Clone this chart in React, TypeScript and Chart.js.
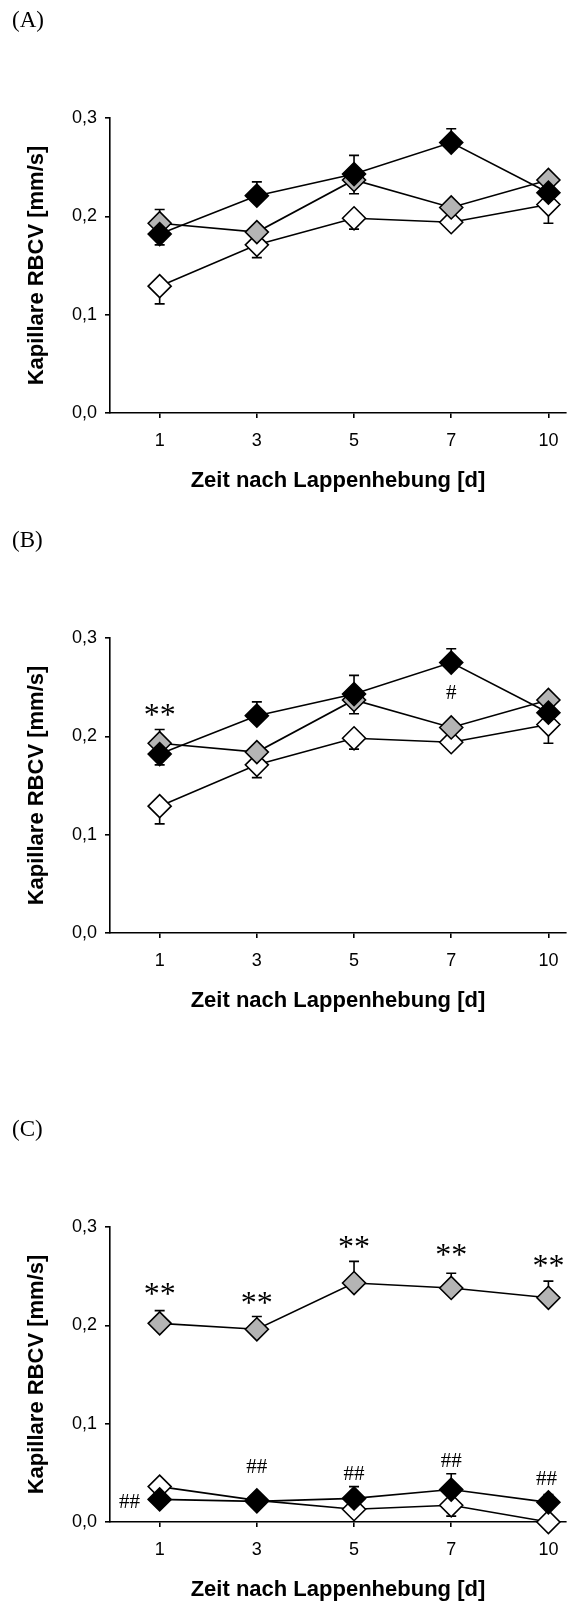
import React, { useEffect, useRef } from 'react';
import { Chart, registerables } from 'chart.js';

Chart.register(...registerables);

// ---- shared axis content ----
const DAY_LABELS = ['1', '3', '5', '7', '10'];
const Y_TICKS = [0, 0.1, 0.2, 0.3];
const Y_TICK_LABELS = ['0,0', '0,1', '0,2', '0,3'];
const X_TITLE = 'Zeit nach Lappenhebung [d]';
const Y_TITLE = 'Kapillare RBCV [mm/s]';

// ---- panels A and B (same measurements) ----
const AB_BLACK = [0.182, 0.221, 0.243, 0.275, 0.224];
const AB_BLACK_UP = [0, 0.014, 0.019, 0.014, 0.012];
const AB_BLACK_DOWN = [0.011, 0, 0, 0, 0];
const AB_GRAY = [0.193, 0.184, 0.237, 0.209, 0.237];
const AB_GRAY_UP = [0.014, 0, 0, 0, 0];
const AB_GRAY_DOWN = [0, 0, 0.014, 0.012, 0];
const AB_WHITE = [0.129, 0.171, 0.198, 0.194, 0.212];
const AB_WHITE_UP = [0, 0, 0, 0, 0];
const AB_WHITE_DOWN = [0.018, 0.013, 0.011, 0, 0.019];

// significance marks of panel B (x = day index, y = value)
const B_MARK_TEXT = ['**', '#'];
const B_MARK_X = [0, 3];
const B_MARK_Y = [0.226, 0.245];

// ---- panel C ----
const C_BLACK = [0.023, 0.021, 0.024, 0.033, 0.02];
const C_BLACK_UP = [0, 0, 0.012, 0.016, 0.008];
const C_BLACK_DOWN = [0, 0, 0, 0, 0];
const C_GRAY = [0.202, 0.196, 0.243, 0.238, 0.228];
const C_GRAY_UP = [0.013, 0.013, 0.022, 0.015, 0.017];
const C_GRAY_DOWN = [0, 0, 0, 0, 0];
const C_WHITE = [0.036, 0.022, 0.013, 0.017, 0.0];
const C_WHITE_UP = [0, 0, 0, 0, 0];
const C_WHITE_DOWN = [0, 0, 0, 0.011, 0];

const C_MARK_TEXT = ['**', '**', '**', '**', '**', '##', '##', '##', '##', '##'];
const C_MARK_X = [0, 1, 2, 3, 4, -0.31, 1, 2, 3, 3.98];
const C_MARK_Y = [0.237, 0.228, 0.284, 0.276, 0.265, 0.021, 0.057, 0.05, 0.063, 0.045];

// ---- styling ----
const SANS = '"Liberation Sans", Arial, sans-serif';
const SERIF = '"Liberation Serif", "Times New Roman", serif';
const GRAY_FILL = '#b4b4b4';
const W = 579;
const H = 497;

type Series = { values: number[]; up: number[]; down: number[]; fill: string };
type PanelSpec = {
  label: string;
  top: number;
  series: Series[]; // first entry is drawn on top
  markText: string[];
  markX: number[];
  markY: number[];
};

const PANELS: PanelSpec[] = [
  {
    label: '(A)',
    top: 0,
    series: [
      { values: AB_BLACK, up: AB_BLACK_UP, down: AB_BLACK_DOWN, fill: '#000000' },
      { values: AB_GRAY, up: AB_GRAY_UP, down: AB_GRAY_DOWN, fill: GRAY_FILL },
      { values: AB_WHITE, up: AB_WHITE_UP, down: AB_WHITE_DOWN, fill: '#ffffff' },
    ],
    markText: [],
    markX: [],
    markY: [],
  },
  {
    label: '(B)',
    top: 520,
    series: [
      { values: AB_BLACK, up: AB_BLACK_UP, down: AB_BLACK_DOWN, fill: '#000000' },
      { values: AB_GRAY, up: AB_GRAY_UP, down: AB_GRAY_DOWN, fill: GRAY_FILL },
      { values: AB_WHITE, up: AB_WHITE_UP, down: AB_WHITE_DOWN, fill: '#ffffff' },
    ],
    markText: B_MARK_TEXT,
    markX: B_MARK_X,
    markY: B_MARK_Y,
  },
  {
    label: '(C)',
    top: 1109,
    series: [
      { values: C_BLACK, up: C_BLACK_UP, down: C_BLACK_DOWN, fill: '#000000' },
      { values: C_GRAY, up: C_GRAY_UP, down: C_GRAY_DOWN, fill: GRAY_FILL },
      { values: C_WHITE, up: C_WHITE_UP, down: C_WHITE_DOWN, fill: '#ffffff' },
    ],
    markText: C_MARK_TEXT,
    markX: C_MARK_X,
    markY: C_MARK_Y,
  },
];

// one-sided SEM whiskers, drawn underneath the diamonds
function errorBarPlugin(series: Series[]) {
  return {
    id: 'errorBars',
    beforeDatasetsDraw(chart: any) {
      const { ctx } = chart;
      const xs = chart.scales.x;
      const ys = chart.scales.y;
      ctx.save();
      ctx.strokeStyle = '#000';
      ctx.lineWidth = 1.6;
      const cap = 5;
      for (let s = series.length - 1; s >= 0; s--) {
        const sr = series[s];
        sr.values.forEach((v, i) => {
          const px = xs.getPixelForValue(i);
          const py = ys.getPixelForValue(v);
          const ends: number[] = [];
          if (sr.up[i] > 0) ends.push(ys.getPixelForValue(v + sr.up[i]));
          if (sr.down[i] > 0) ends.push(ys.getPixelForValue(v - sr.down[i]));
          ends.forEach((ey) => {
            ctx.beginPath();
            ctx.moveTo(px, py);
            ctx.lineTo(px, ey);
            ctx.moveTo(px - cap, ey);
            ctx.lineTo(px + cap, ey);
            ctx.stroke();
          });
        });
      }
      ctx.restore();
    },
  };
}

// significance symbols (* and #) at data positions
function markPlugin(text: string[], mx: number[], my: number[]) {
  return {
    id: 'sigMarks',
    afterDatasetsDraw(chart: any) {
      const { ctx } = chart;
      const xs = chart.scales.x;
      const ys = chart.scales.y;
      ctx.save();
      ctx.fillStyle = '#000';
      ctx.textAlign = 'center';
      ctx.textBaseline = 'alphabetic';
      text.forEach((t, i) => {
        const star = t.startsWith('*');
        const size = star ? 32 : 21;
        const lift = star ? 0.46 : 0.33;
        ctx.font = `${size}px ${SERIF}`;
        const px = xs.getPixelForValue(mx[i]);
        const py = ys.getPixelForValue(my[i]);
        ctx.fillText(t, px, py + lift * size);
      });
      ctx.restore();
    },
  };
}

function Panel({ spec }: { spec: PanelSpec }) {
  const ref = useRef<HTMLCanvasElement>(null);

  useEffect(() => {
    const canvas = ref.current;
    if (!canvas) return;
    const datasets = spec.series.map((s) => ({
      data: s.values.map((v, i) => ({ x: i, y: v })),
      borderColor: '#000',
      borderWidth: 1.6,
      pointStyle: 'rectRot' as const,
      pointRadius: 11.5,
      pointBorderWidth: 1.6,
      pointBorderColor: '#000',
      pointBackgroundColor: s.fill,
      tension: 0,
      clip: false as any,
    }));

    const chart = new Chart(canvas, {
      type: 'line',
      data: { datasets },
      options: {
        animation: false,
        responsive: false,
        events: [],
        layout: { padding: { top: 118, right: 1, left: 0, bottom: 0 } },
        plugins: {
          legend: { display: false },
          tooltip: { enabled: false },
        },
        scales: {
          x: {
            type: 'linear',
            min: -0.511,
            max: 4.18,
            afterBuildTicks: (s: any) => {
              s.ticks = DAY_LABELS.map((_, i) => ({ value: i }));
            },
            afterFit: (s: any) => {
              s.height = H - 413;
            },
            ticks: {
              callback: (v: any) => DAY_LABELS[v] ?? '',
              font: { family: SANS, size: 18 },
              color: '#000',
              padding: 12,
              autoSkip: false,
              maxRotation: 0,
            },
            grid: {
              display: true,
              drawOnChartArea: false,
              drawTicks: true,
              tickLength: 5,
              color: '#000',
              lineWidth: 1.6,
            },
            border: { display: true, color: '#000', width: 1.6 },
            title: {
              display: true,
              text: X_TITLE,
              color: '#000',
              font: { family: SANS, size: 22, weight: 'bold', lineHeight: 1.2 },
              padding: { top: 0, bottom: 3 },
            },
          },
          y: {
            type: 'linear',
            min: 0,
            max: 0.3,
            afterBuildTicks: (s: any) => {
              s.ticks = Y_TICKS.map((v) => ({ value: v }));
            },
            afterFit: (s: any) => {
              s.width = 110;
            },
            ticks: {
              callback: (_v: any, i: number) => Y_TICK_LABELS[i],
              font: { family: SANS, size: 18 },
              color: '#000',
              padding: 8,
            },
            grid: {
              display: true,
              drawOnChartArea: false,
              drawTicks: true,
              tickLength: 5,
              color: '#000',
              lineWidth: 1.6,
            },
            border: { display: true, color: '#000', width: 1.6 },
            title: {
              display: true,
              text: Y_TITLE,
              color: '#000',
              font: { family: SANS, size: 22, weight: 'bold', lineHeight: 1.2 },
              padding: { top: 23.5, bottom: 0 },
            },
          },
        },
      } as any,
      plugins: [errorBarPlugin(spec.series), markPlugin(spec.markText, spec.markX, spec.markY)],
    });
    return () => chart.destroy();
  }, [spec]);

  return (
    <div style={{ position: 'absolute', left: 0, top: spec.top, width: W, height: H }}>
      <canvas ref={ref} width={W} height={H} style={{ display: 'block', width: W, height: H }} />
      <div
        style={{
          position: 'absolute',
          left: 12,
          top: 8,
          fontFamily: SERIF,
          fontSize: 23,
          lineHeight: '23px',
          color: '#000',
          whiteSpace: 'nowrap',
        }}
      >
        {spec.label}
      </div>
    </div>
  );
}

export default function App() {
  return (
    <div style={{ position: 'absolute', left: 0, top: 0, width: W, height: 1606, background: '#fff' }}>
      {PANELS.map((p) => (
        <Panel key={p.label} spec={p} />
      ))}
    </div>
  );
}
